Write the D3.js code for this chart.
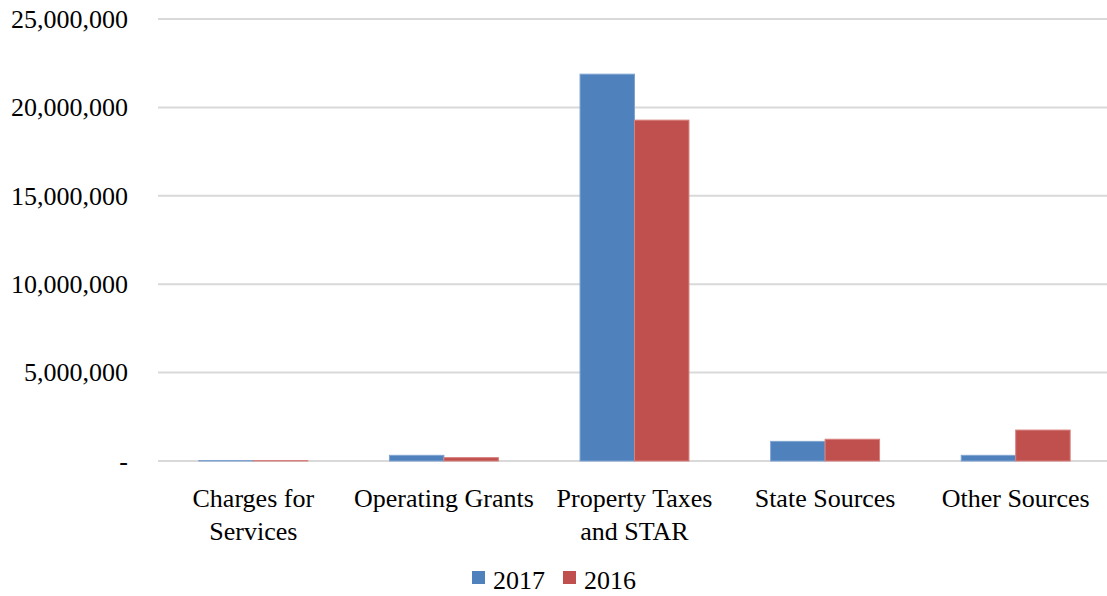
<!DOCTYPE html>
<html>
<head>
<meta charset="utf-8">
<script src="https://cdn.jsdelivr.net/npm/d3@7"></script>
<style>
  body { margin: 0; background: #fff; }
  text { font-family: "Liberation Serif", "Times New Roman", serif; fill: #000; }
</style>
</head>
<body>
<div id="chart"></div>
<script>
// data
var categories = [["Charges for", "Services"], ["Operating Grants"], ["Property Taxes", "and STAR"], ["State Sources"], ["Other Sources"]];
var series = ["2017", "2016"];
var values2017 = [25000, 320000, 21880000, 1110000, 320000];
var values2016 = [25000, 190000, 19280000, 1230000, 1750000];
var yTicks = [0, 5000000, 10000000, 15000000, 20000000, 25000000];
var colors = ["#4f81bd", "#c0504d"];
var borders = ["#7fa3d1", "#d7807d"];

var width = 1107, height = 596;
var margin = {top: 19, right: 0, bottom: 135, left: 158};
var fontSize = 26;

var svg = d3.select("#chart").append("svg")
  .attr("width", width)
  .attr("height", height);

// plot area runs a little past the right edge of the window
var x = d3.scaleBand()
  .domain(d3.range(categories.length))
  .range([margin.left, width + 4]);

var y = d3.scaleLinear()
  .domain([0, 25000000])
  .range([height - margin.bottom, margin.top]);

// gridlines
svg.append("g")
  .selectAll("line")
  .data(yTicks)
  .join("line")
    .attr("x1", margin.left)
    .attr("x2", width - margin.right)
    .attr("y1", d => y(d))
    .attr("y2", d => y(d))
    .attr("stroke", "#d9d9d9")
    .attr("stroke-width", 2);

// y axis labels
var yAxis = svg.append("g")
  .attr("transform", "translate(" + (margin.left - 30) + ",0)")
  .call(d3.axisLeft(y).tickValues(yTicks).tickSize(0).tickPadding(0)
    .tickFormat(d => d === 0 ? "-" : d3.format(",")(d)));
yAxis.select(".domain").remove();
yAxis.selectAll("text")
  .attr("font-size", fontSize)
  .attr("font-family", "Liberation Serif")
  .attr("fill", "#000");

// bars (gap width 150% of a bar)
var barW = x.bandwidth() / 3.5;
var groupW = barW * 2;
var data = [values2017, values2016];

data.forEach(function(vals, si) {
  svg.append("g")
    .selectAll("rect")
    .data(vals)
    .join("rect")
      .attr("x", (d, i) => x(i) + (x.bandwidth() - groupW) / 2 + si * barW)
      .attr("y", d => y(d))
      .attr("width", barW)
      .attr("height", d => y(0) - y(d))
      .attr("fill", colors[si])
      .attr("stroke", borders[si])
      .attr("stroke-width", 1);
});

// category labels
var xl = svg.append("g");
categories.forEach(function(lines, i) {
  var cx = x(i) + x.bandwidth() / 2;
  var t = xl.append("text")
    .attr("text-anchor", "middle")
    .attr("font-size", fontSize)
    .attr("x", cx)
    .attr("y", 507);
  lines.forEach(function(l, j) {
    t.append("tspan")
      .attr("x", cx)
      .attr("dy", j === 0 ? 0 : 33)
      .text(l);
  });
});

// legend
var legend = svg.append("g");
var legX = [472, 563];
series.forEach(function(s, i) {
  legend.append("rect")
    .attr("x", legX[i])
    .attr("y", 571)
    .attr("width", 13)
    .attr("height", 13)
    .attr("fill", colors[i]);
  legend.append("text")
    .attr("x", legX[i] + 21)
    .attr("y", 589)
    .attr("font-size", fontSize)
    .text(s);
});
</script>
</body>
</html>
